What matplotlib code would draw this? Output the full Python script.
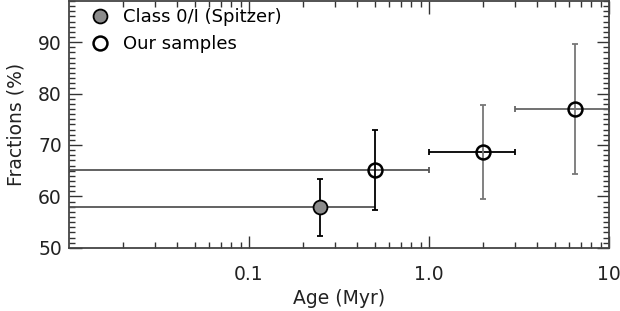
import numpy as np
import matplotlib
matplotlib.use('Agg')
import matplotlib.pyplot as plt
from matplotlib.ticker import FixedLocator, FixedFormatter, MultipleLocator

# Class 0/I (Spitzer)
spitzer_age = [0.25]
spitzer_frac = [57.9]
spitzer_xlo = [0.01]
spitzer_xhi = [0.5]
spitzer_ylo = [52.4]
spitzer_yhi = [63.4]

# Our samples
our_age = [0.5, 2.0, 6.5]
our_frac = [65.2, 68.6, 77.0]
our_xlo = [0.01, 1.0, 3.0]
our_xhi = [1.0, 3.0, 10.0]
our_ylo = [57.3, 59.5, 64.4]
our_yhi = [72.9, 77.7, 89.7]
our_xcol = ['#555555', 'black', '#666666']
our_ycol = ['black', '#777777', '#777777']

xticks = [0.1, 1.0, 10]
xticklabels = ['0.1', '1.0', '10']

plt.rcParams['font.family'] = 'DejaVu Sans'
fig = plt.figure(figsize=(6.2, 3.11), dpi=100)
ax = fig.add_axes([0.111, 0.203, 0.871, 0.794])

# error bars
for i in range(len(spitzer_age)):
    ax.errorbar(spitzer_age[i], spitzer_frac[i],
                xerr=[[spitzer_age[i] - spitzer_xlo[i]], [spitzer_xhi[i] - spitzer_age[i]]],
                fmt='none', ecolor='#555555', elinewidth=1.3, capsize=0)
    ax.errorbar(spitzer_age[i], spitzer_frac[i],
                yerr=[[spitzer_frac[i] - spitzer_ylo[i]], [spitzer_yhi[i] - spitzer_frac[i]]],
                fmt='none', ecolor='black', elinewidth=1.3, capsize=2.3, capthick=1.3)
for i in range(len(our_age)):
    ax.errorbar(our_age[i], our_frac[i],
                xerr=[[our_age[i] - our_xlo[i]], [our_xhi[i] - our_age[i]]],
                fmt='none', ecolor=our_xcol[i], elinewidth=1.3, capsize=2.3, capthick=1.3)
    ax.errorbar(our_age[i], our_frac[i],
                yerr=[[our_frac[i] - our_ylo[i]], [our_yhi[i] - our_frac[i]]],
                fmt='none', ecolor=our_ycol[i], elinewidth=1.3, capsize=2.3, capthick=1.3)

ax.plot(spitzer_age, spitzer_frac, 'o', ms=10, mfc='#8c8c8c', mec='black', mew=1.3,
        label='Class 0/I (Spitzer)', zorder=5)
ax.plot(our_age, our_frac, 'o', ms=10, mfc='none', mec='black', mew=1.8,
        label='Our samples', zorder=5)

ax.set_xscale('log')
ax.set_xlim(0.01, 10)
ax.set_ylim(50, 98)
ax.xaxis.set_major_locator(FixedLocator(xticks))
ax.xaxis.set_major_formatter(FixedFormatter(xticklabels))
ax.yaxis.set_major_locator(MultipleLocator(10))
ax.yaxis.set_minor_locator(MultipleLocator(1))
ax.tick_params(which='both', direction='in', top=True, right=True, color='#333333',
               labelsize=13.5, labelcolor='#222222')
ax.tick_params(which='major', length=9, width=1)
ax.tick_params(which='minor', length=4.5, width=1)
ax.tick_params(axis='x', pad=12)
ax.tick_params(axis='y', pad=5)
for s in ax.spines.values():
    s.set_color('#444444')
    s.set_linewidth(1.3)

ax.set_xlabel('Age (Myr)', fontsize=13.5, color='#222222', labelpad=4)
ax.set_ylabel('Fractions (%)', fontsize=13.5, color='#222222', labelpad=9)

ax.legend(loc='upper left', bbox_to_anchor=(0.031, 1.0), frameon=False, fontsize=13,
          handlelength=0.8, handletextpad=0.9, borderaxespad=0, labelspacing=0.5)

fig.savefig('out.png', dpi=100)
